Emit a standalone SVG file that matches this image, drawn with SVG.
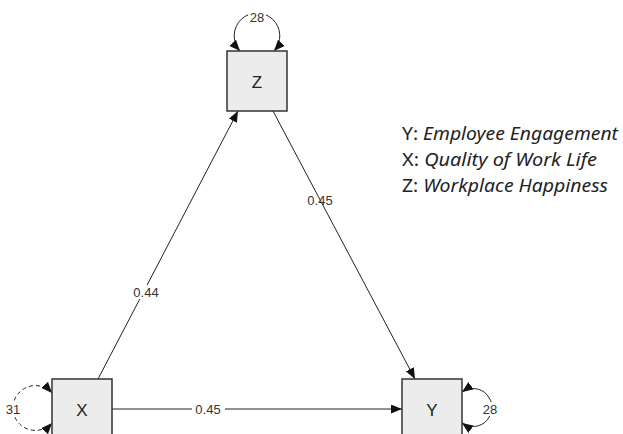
<svg xmlns="http://www.w3.org/2000/svg" width="623" height="434" viewBox="0 0 623 434">
  <style>
    .box { fill: #ececec; stroke: #333333; stroke-width: 1.5; }
    .nlab { font-family: "Liberation Sans", Arial, sans-serif; font-size: 17px; fill: #222222; text-anchor: middle; dominant-baseline: central; }
    .edge { fill: none; stroke: #222222; stroke-width: 1; }
    .loop { fill: none; stroke: #222222; stroke-width: 1; }
    .dash { stroke-dasharray: 4 3; }
    .elab { font-family: "Liberation Sans", Arial, sans-serif; font-size: 13px; fill: #333333; text-anchor: middle; dominant-baseline: central; }
    .legend { font-family: "Noto Sans", "Open Sans", sans-serif; font-size: 18.5px; fill: #222222; }
    .legend .it { font-style: italic; }
  </style>
  <defs>
    <marker id="arrow" viewBox="0 0 11 9" refX="11" refY="4.5" markerWidth="11" markerHeight="9" markerUnits="userSpaceOnUse" orient="auto-start-reverse">
      <path d="M0,0 L11,4.5 L0,9 Z" fill="#111111"/>
    </marker>
  </defs>

  <!-- connectors: paths and variances -->
  <g id="connectors">
    <path class="edge" d="M98,379 L238,111" marker-end="url(#arrow)"/>
    <path class="edge" d="M273,111 L415,379" marker-end="url(#arrow)"/>
    <path class="edge" d="M112,409 L192,409 M225,409 L402,409" marker-end="url(#arrow)"/>
    <!-- variance loops -->
    <path class="loop" d="M240,51 A22.8,22.8 0 1 1 274,51" marker-start="url(#arrow)" marker-end="url(#arrow)"/>
    <path class="loop dash" d="M52,393 A22.4,22.4 0 1 0 52,423" marker-start="url(#arrow)" marker-end="url(#arrow)"/>
    <path class="loop" d="M462,392 A19,19 0 1 1 462,423" marker-start="url(#arrow)" marker-end="url(#arrow)"/>
    <rect x="248" y="10" width="18" height="14" fill="#ffffff"/>
    <rect x="4" y="402" width="18" height="14" fill="#ffffff"/>
    <rect x="481" y="402" width="18" height="14" fill="#ffffff"/>
    <rect x="132" y="285" width="28" height="14" fill="#ffffff"/>
    <text class="elab" x="257" y="17">28</text>
    <text class="elab" x="13" y="409">31</text>
    <text class="elab" x="490" y="409">28</text>
    <text class="elab" x="146" y="292">0.44</text>
    <text class="elab" x="320" y="200">0.45</text>
    <text class="elab" x="208" y="409">0.45</text>
  </g>

  <g id="node-Z">
    <rect class="box" x="227" y="51" width="60" height="60"/>
    <text class="nlab" x="257" y="82">Z</text>
  </g>
  <g id="node-X">
    <rect class="box" x="52" y="379" width="60" height="60"/>
    <text class="nlab" x="82" y="410">X</text>
  </g>
  <g id="node-Y">
    <rect class="box" x="402" y="379" width="60" height="60"/>
    <text class="nlab" x="432" y="410">Y</text>
  </g>

  <g id="legend" class="legend">
    <text x="402" y="140" textLength="216" lengthAdjust="spacingAndGlyphs">Y: <tspan class="it">Employee Engagement</tspan></text>
    <text x="402" y="166" textLength="195" lengthAdjust="spacingAndGlyphs">X: <tspan class="it">Quality of Work Life</tspan></text>
    <text x="402" y="192" textLength="206" lengthAdjust="spacingAndGlyphs">Z: <tspan class="it">Workplace Happiness</tspan></text>
  </g>
</svg>
